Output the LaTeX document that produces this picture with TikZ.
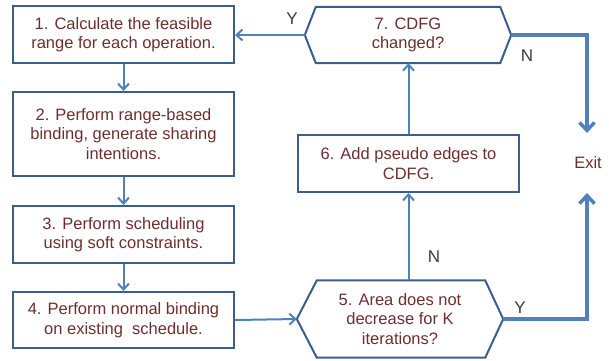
\documentclass[tikz,border=0pt]{standalone}
\usepackage{fontspec}
\setmainfont{Liberation Sans}
\usetikzlibrary{arrows.meta,calc}
\definecolor{boxline}{HTML}{3A5F8C}
\definecolor{flow}{HTML}{4F81BD}
\definecolor{txt}{HTML}{6E2E2E}
\definecolor{lbl}{HTML}{3C3C3C}
\begin{document}
\begin{tikzpicture}[x=1pt,y=-1pt,
  every node/.style={font=\fontsize{16.5}{19.5}\selectfont, text=txt, align=center, inner sep=0pt},
  stepbox/.style={draw=boxline, line width=2pt, minimum width=221pt},
  hexarea/.style={minimum width=206pt},
  hexline/.style={draw=boxline, line width=2pt, line join=miter},
  thin flow/.style={draw=flow, line width=2pt, -{Straight Barb[length=6pt,width=11pt,line width=2pt]}},
  thick flow/.style={draw=flow, line width=3.5pt, -{Straight Barb[length=8pt,width=15pt,line width=3.5pt]}},
  answer/.style={text=lbl, font=\fontsize{17}{20}\selectfont}]
\useasboundingbox (0,0) rectangle (609,360);

% process steps on the left
\node[stepbox, minimum height=57pt] (s1) at (123.5,34.5) {1. Calculate the feasible\\range for each operation.};
\node[stepbox, minimum height=84pt] (s2) at (123.5,134) {2. Perform range-based\\binding, generate sharing\\intentions.};
\node[stepbox, minimum height=57pt] (s3) at (123.5,234.5) {3. Perform scheduling\\using soft constraints.};
\node[stepbox, minimum height=56pt] (s4) at (123.5,320) {4. Perform normal binding\\on existing\ \ schedule.};

% loop on the right
\node[stepbox, minimum height=57pt] (s6) at (408.5,163.5) {6. Add pseudo edges to\\CDFG.};
\node[hexarea, minimum height=56pt] (s7) at (408,35) {7. CDFG\\changed?};
\node[hexarea, minimum height=77pt] (s5) at (400,319) {5. Area does not\\decrease for K\\iterations?};

% decision outlines
\draw[hexline] (s7.west) -- ([xshift=11pt]s7.north west) -- ([xshift=-11pt]s7.north east)
  -- (s7.east) -- ([xshift=-11pt]s7.south east) -- ([xshift=11pt]s7.south west) -- cycle;
\draw[hexline] (s5.west) -- ([xshift=20pt]s5.north west) -- ([xshift=-18pt]s5.north east)
  -- (s5.east) -- ([xshift=-18pt]s5.south east) -- ([xshift=20pt]s5.south west) -- cycle;

\node[text=txt] (exit) at (588,163) {Exit};
\coordinate (exitabove) at (587,133);
\coordinate (exitbelow) at (587,193);

% connectors
\draw[thin flow] (s1) -- (s2);
\draw[thin flow] (s2) -- (s3);
\draw[thin flow] (s3) -- (s4);
\draw[thin flow] (s4.east) -- (s5.west);
\draw[thin flow] (s6.south |- s5.north) -- (s6.south);
\draw[thin flow] (s6.north) -- (s6.north |- s7.south);
\draw[thin flow] (s7.west) -- (s1.east |- s7.west);
\draw[thick flow] (s7.east) -| (exitabove);
\draw[thick flow] (s5.east) -| (exitbelow);

% branch labels
\node[answer] (y7) at (292,19) {Y};
\node[answer] (n7) at (527,56) {N};
\node[answer] (n5) at (434,257) {N};
\node[answer] (y5) at (520,308) {Y};
\end{tikzpicture}
\end{document}
